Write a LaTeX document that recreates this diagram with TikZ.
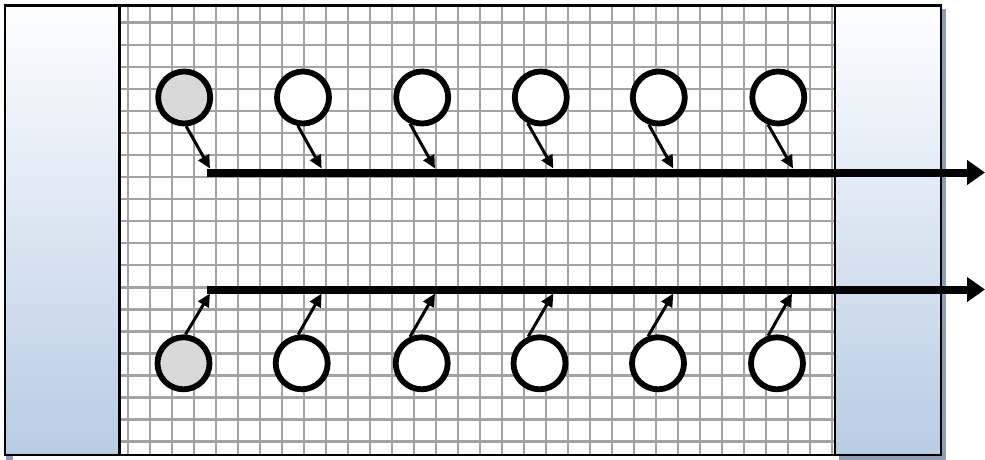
\documentclass[tikz,border=0pt]{standalone}
\usetikzlibrary{arrows.meta}
\definecolor{gridgray}{HTML}{A3A3A3}
\definecolor{shadowc}{HTML}{8E9DB5}
\definecolor{paneltop}{HTML}{FDFEFF}
\definecolor{panelmid}{HTML}{E8EEF7}
\definecolor{panelbot}{HTML}{B8CCE4}
\definecolor{graycirc}{HTML}{D9D9D9}
\tikzset{
  panel/.style={top color=paneltop, middle color=panelmid, bottom color=panelbot, draw=black, line width=2.6pt},
  gridline/.style={draw=gridgray, line width=2.4pt},
  disc/.style={circle, draw=black, fill=white, line width=5.8pt, minimum size=52pt, inner sep=0pt},
  graydisc/.style={disc, fill=graycirc},
  feed/.style={draw=black, line width=3pt, -{Triangle[length=13pt,width=12pt]}},
  busline/.style={draw=black, line width=8pt, -{Triangle[length=18pt,width=24pt]}},
}
\begin{document}
\begin{tikzpicture}[x=1pt,y=-1pt]
\useasboundingbox (0,0) rectangle (985,460);
% shadows
\fill[shadowc] (839,9) rectangle (945.5,459.5);
\fill[shadowc] (6,455) rectangle (12.5,459.5);
% middle grid region
\fill[white] (119.5,5) rectangle (835,455);
\begin{scope}
\clip (119.5,5) rectangle (835,455);
\foreach \k in {0,...,32} {
  \draw[gridline] ({127.7+22*\k},5) -- ({127.7+22*\k},455);
}
\foreach \k in {0,...,19} {
  \draw[gridline] (119.5,{22.7+22.05*\k}) -- (835,{22.7+22.05*\k});
}
\end{scope}
% panels
\shade[panel] (5,5.5) rectangle (119.5,455);
\shade[panel] (835,5.5) rectangle (941,455);
\draw[black, line width=2.8pt] (5,5.5) rectangle (941,455);
% bus lines
\coordinate (L1) at (206.7,172.5);
\coordinate (R1) at (985,172.5);
\coordinate (L2) at (206.7,289.5);
\coordinate (R2) at (985,289.5);
\draw[busline] (L1) -- (R1);
\draw[busline] (L2) -- (R2);
% circles
\node[graydisc] (c1) at (184.2,97.5) {};
\node[disc] (c2) at (303,97.5) {};
\node[disc] (c3) at (422.2,97.5) {};
\node[disc] (c4) at (540.8,97.5) {};
\node[disc] (c5) at (658.8,97.5) {};
\node[disc] (c6) at (778.3,97.5) {};
\node[graydisc] (d1) at (183.5,363.3) {};
\node[disc] (d2) at (301.7,363.3) {};
\node[disc] (d3) at (421.7,363.3) {};
\node[disc] (d4) at (539.5,363.3) {};
\node[disc] (d5) at (658,363.3) {};
\node[disc] (d6) at (777,363.3) {};
% arrow ends
\coordinate (t1) at (210,168.5);
\coordinate (t2) at (321.7,168.5);
\coordinate (t3) at (435,168.5);
\coordinate (t4) at (553.3,168.5);
\coordinate (t5) at (673.3,168.5);
\coordinate (t6) at (793,168.5);
\coordinate (b1) at (210,293.5);
\coordinate (b2) at (321.7,293.5);
\coordinate (b3) at (435,293.5);
\coordinate (b4) at (553.3,293.5);
\coordinate (b5) at (673.3,293.5);
\coordinate (b6) at (792,293.5);
\draw[feed] (c1.-86) -- (t1);
\draw[feed] (c2.-100) -- (t2);
\draw[feed] (c3.-115) -- (t3);
\draw[feed] (c4.-117) -- (t4);
\draw[feed] (c5.-110) -- (t5);
\draw[feed] (c6.-111) -- (t6);
\draw[feed] (d1.86) -- (b1);
\draw[feed] (d2.97) -- (b2);
\draw[feed] (d3.114) -- (b3);
\draw[feed] (d4.113) -- (b4);
\draw[feed] (d5.110) -- (b5);
\draw[feed] (d6.108) -- (b6);
\end{tikzpicture}
\end{document}
